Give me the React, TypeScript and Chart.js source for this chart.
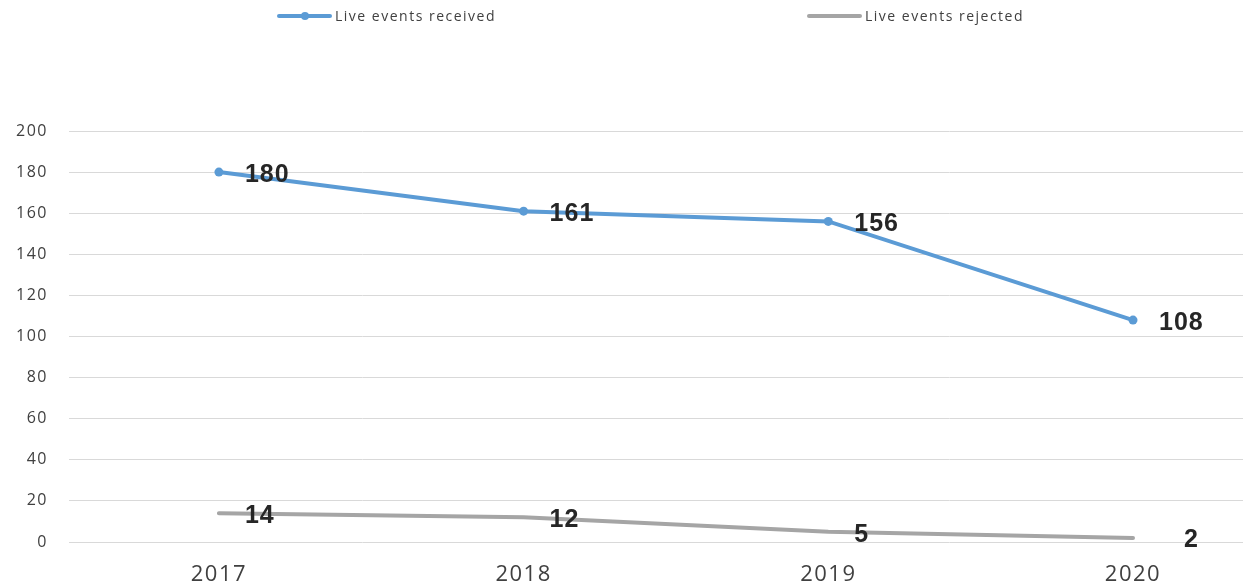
import React, { useEffect, useRef } from "react";
import { Chart, registerables } from "chart.js";

Chart.register(...registerables);

const categories = ["2017", "2018", "2019", "2020"];
const received = [180, 161, 156, 108];
const rejected = [14, 12, 5, 2];
const seriesNames = ["Live events received", "Live events rejected"];
const yTicks = [0, 20, 40, 60, 80, 100, 120, 140, 160, 180, 200];

const BLUE = "#5B9BD5";
const GRAY = "#A5A5A5";

export default function App() {
  const ref = useRef<HTMLCanvasElement | null>(null);

  useEffect(() => {
    if (!ref.current) return;
    const years = categories.map((c) => Number(c));

    const spacingPlugin = {
      id: "spacing",
      beforeDraw(chart: any) {
        chart.ctx.letterSpacing = "1.5px";
      },
    };

    const labelPlugin = {
      id: "valueLabels",
      afterDatasetsDraw(chart: any) {
        const ctx = chart.ctx;
        ctx.save();
        ctx.letterSpacing = "1px";
        ctx.font = "bold 25px 'Liberation Sans', Arial, sans-serif";
        ctx.fillStyle = "#262626";
        ctx.textAlign = "left";
        ctx.textBaseline = "middle";
        chart.data.datasets.forEach((ds: any, di: number) => {
          const meta = chart.getDatasetMeta(di);
          meta.data.forEach((pt: any, i: number) => {
            const v = ds.data[i].y;
            let dx = 26;
            let dy = 3;
            if (di === 1 && i === ds.data.length - 1) {
              dx = 51;
              dy = 2;
            }
            ctx.fillText(String(v), pt.x + dx, pt.y + dy);
          });
        });
        ctx.restore();
      },
    };

    const legendPlugin = {
      id: "customLegend",
      afterDraw(chart: any) {
        const ctx = chart.ctx;
        ctx.save();
        const items = [
          { x: 279, color: BLUE, point: true, text: seriesNames[0] },
          { x: 809, color: GRAY, point: false, text: seriesNames[1] },
        ];
        const y = 16;
        items.forEach((it) => {
          ctx.strokeStyle = it.color;
          ctx.lineWidth = 4;
          ctx.lineCap = "round";
          ctx.beginPath();
          ctx.moveTo(it.x, y);
          ctx.lineTo(it.x + 51, y);
          ctx.stroke();
          if (it.point) {
            ctx.fillStyle = it.color;
            ctx.beginPath();
            ctx.arc(it.x + 26, y, 4, 0, Math.PI * 2);
            ctx.fill();
          }
          ctx.fillStyle = "#404040";
          ctx.letterSpacing = "1.5px";
          ctx.font = "14px 'Open Sans', 'Noto Sans', sans-serif";
          ctx.textAlign = "left";
          ctx.textBaseline = "middle";
          ctx.fillText(it.text, it.x + 56, y + 1);
        });
        ctx.restore();
      },
    };

    const chart = new Chart(ref.current, {
      type: "line",
      data: {
        datasets: [
          {
            label: seriesNames[0],
            data: years.map((x, i) => ({ x, y: received[i] })),
            borderColor: BLUE,
            backgroundColor: BLUE,
            borderWidth: 4,
            pointRadius: 4.5,
            pointBackgroundColor: BLUE,
            pointBorderWidth: 0,
            tension: 0,
          },
          {
            label: seriesNames[1],
            data: years.map((x, i) => ({ x, y: rejected[i] })),
            borderColor: GRAY,
            backgroundColor: GRAY,
            borderWidth: 4,
            pointRadius: 0,
            tension: 0,
            borderCapStyle: "round",
          },
        ],
      },
      options: {
        animation: false,
        responsive: false,
        maintainAspectRatio: false,
        devicePixelRatio: 1,
        layout: { padding: { top: 131, right: 15, left: 0, bottom: 0 } },
        plugins: {
          legend: { display: false },
          tooltip: { enabled: false },
          title: { display: false },
        },
        scales: {
          x: {
            type: "linear",
            min: 2016.508,
            max: 2020.361,
            grid: { display: false, drawTicks: false },
            border: { display: false },
            afterBuildTicks(scale: any) {
              scale.ticks = years.map((v) => ({ value: v }));
            },
            afterFit(scale: any) {
              scale.height = 45;
            },
            ticks: {
              padding: 20,
              color: "#404040",
              font: { size: 22, family: "'Open Sans', 'Noto Sans', sans-serif" },
              callback: (v: any) => String(v),
              maxRotation: 0,
              autoSkip: false,
            },
          },
          y: {
            min: 0,
            max: 200,
            grid: { color: "#D9D9D9", lineWidth: 1, drawTicks: false },
            border: { display: false },
            afterBuildTicks(scale: any) {
              scale.ticks = yTicks.map((v) => ({ value: v }));
            },
            afterFit(scale: any) {
              scale.width = 69;
            },
            ticks: {
              padding: 21,
              color: "#404040",
              font: { size: 16, family: "'Open Sans', 'Noto Sans', sans-serif" },
            },
          },
        },
      },
      plugins: [spacingPlugin, labelPlugin, legendPlugin],
    } as any);

    return () => chart.destroy();
  }, []);

  return (
    <div style={{ position: "absolute", left: 0, top: 0, width: 1258, height: 587, background: "#fff" }}>
      <canvas ref={ref} width={1258} height={587} style={{ display: "block" }} />
    </div>
  );
}
